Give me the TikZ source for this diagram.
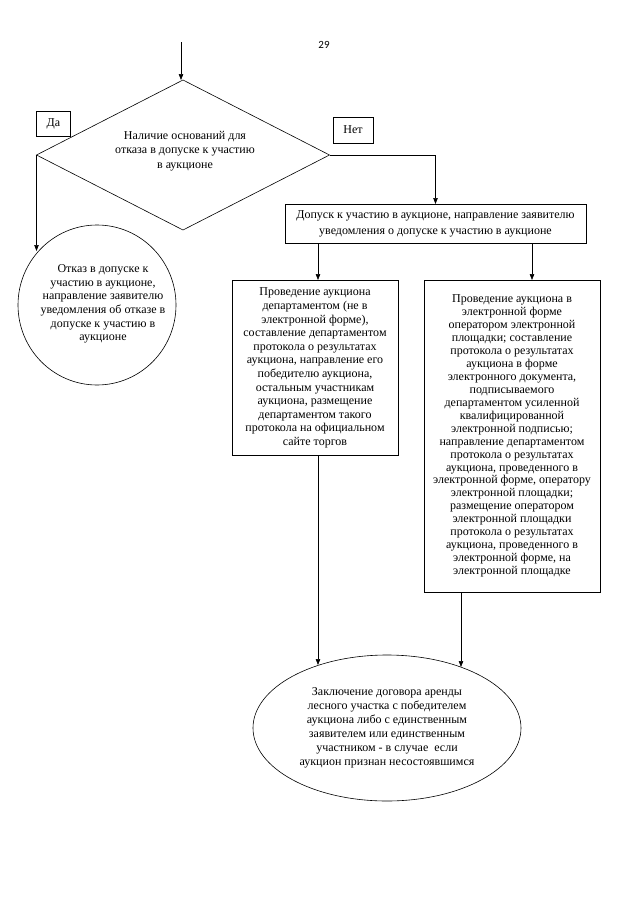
\documentclass[tikz,border=0pt]{standalone}
\usepackage{fontspec}
\setmainfont{Liberation Serif}
\newfontfamily\pagefont{Carlito}
\usetikzlibrary{shapes.geometric,arrows.meta}
\begin{document}
\begin{tikzpicture}[x=1pt,y=1pt,
  every node/.style={inner sep=0pt,outer sep=0pt,line width=0.6pt},
  txt/.style={font=\fontsize{12}{13.6}\selectfont,align=center},
  boxnode/.style={draw,rectangle,txt},
  arr/.style={line width=0.6pt,-{Triangle[length=6pt,width=4.5pt]}},
  ln/.style={line width=0.6pt}]
\useasboundingbox (0,0) rectangle (640,-905);
\node[font=\pagefont\fontsize{11}{13}\selectfont] (pg) at (324,-45) {29};
\node[draw,diamond,minimum width=293pt,minimum height=150pt,txt] (dia) at (183,-155) {};
\node[txt,font=\fontsize{12}{14.5}\selectfont] (diat) at (185,-151) {Наличие оснований для\\отказа в допуске к участию\\в аукционе};
\node[boxnode,minimum width=34pt,minimum height=25pt] (da) at (53.5,-124) {Да};
\node[boxnode,minimum width=40pt,minimum height=26pt] (net) at (353,-130) {Нет};
\node[boxnode,minimum width=301pt,minimum height=39pt,font=\fontsize{12}{16}\selectfont] (dop) at (435.5,-223.5)
  {Допуск к участию в аукционе, направление заявителю\\уведомления о допуске к участию в аукционе};
\node[boxnode,minimum width=166pt,minimum height=175pt] (lb) at (315,-368)
  {Проведение аукциона\\департаментом (не в\\электронной форме),\\составление департаментом\\протокола о результатах\\аукциона, направление его\\победителю аукциона,\\остальным участникам\\аукциона, размещение\\департаментом такого\\протокола на официальном\\сайте торгов};
\node[boxnode,minimum width=176pt,minimum height=312pt,font=\fontsize{12}{12.95}\selectfont] (rb) at (512,-436)
  {Проведение аукциона в\\электронной форме\\оператором электронной\\площадки; составление\\протокола о результатах\\аукциона в форме\\электронного документа,\\подписываемого\\департаментом усиленной\\квалифицированной\\электронной подписью;\\направление департаментом\\протокола о результатах\\аукциона, проведенного в\\электронной форме, оператору\\электронной площадки;\\размещение оператором\\электронной площадки\\протокола о результатах\\аукциона, проведенного в\\электронной форме, на\\электронной площадке};
\node[draw,ellipse,minimum width=158pt,minimum height=160pt] (circ) at (97,-305) {};
\node[txt] (circt) at (103,-304) {Отказ в допуске к\\участию в аукционе,\\направление заявителю\\уведомления об отказе в\\допуске к участию в\\аукционе};
\node[draw,ellipse,minimum width=268pt,minimum height=146pt] (ell) at (387,-728) {};
\node[txt,font=\fontsize{12}{14}\selectfont] (ellt) at (387,-728) {Заключение договора аренды\\лесного участка с победителем\\аукциона либо с единственным\\заявителем или единственным\\участником - в случае\ \ если\\аукцион признан несостоявшимся};
\coordinate (top) at (181,-42);
\coordinate (c1) at (37,-251);
\coordinate (r1) at (532,-280);
\coordinate (l1) at (318,-280);
\coordinate (e1) at (318,-665);
\coordinate (e2) at (461,-667);
\draw[arr] (top) -- (top |- dia.north);
\draw[arr] (dia.west) -- (dia.west |- c1);
\draw[arr] (dia.east) -| (dop.north);
\draw[arr] (dop.south -| l1) -- (l1);
\draw[arr] (dop.south -| r1) -- (r1);
\draw[arr] (lb.south -| e1) -- (e1);
\draw[arr] (rb.south -| e2) -- (e2);
\end{tikzpicture}
\end{document}
